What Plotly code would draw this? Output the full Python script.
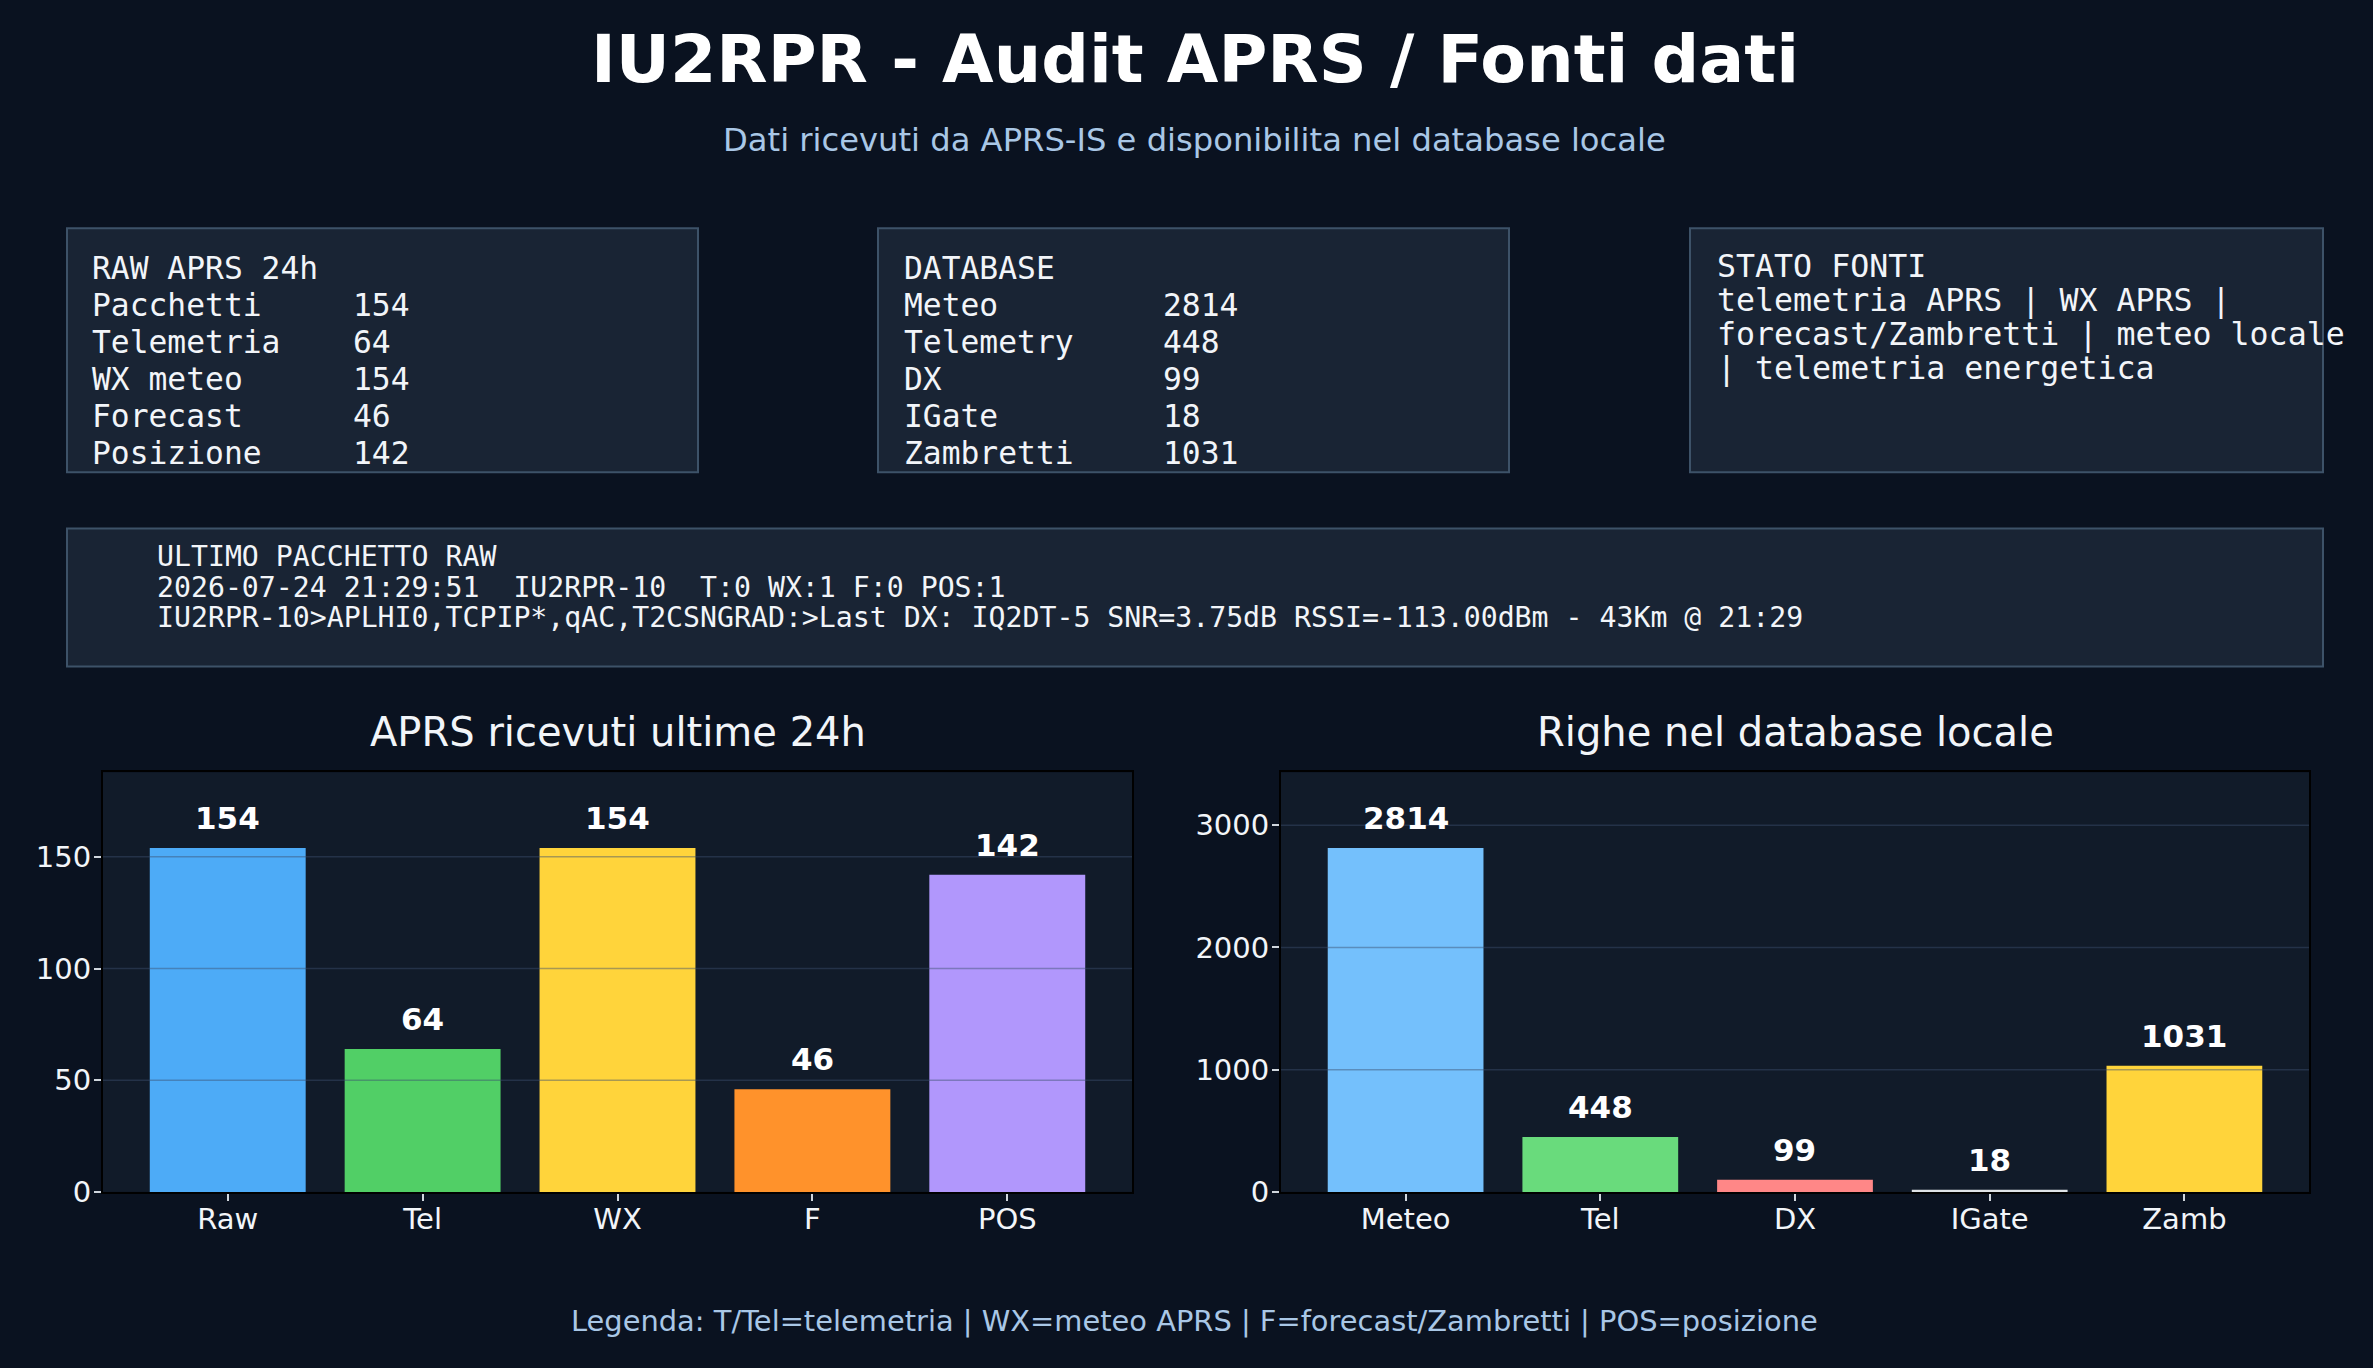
import plotly.graph_objects as go

# ---------------- data ----------------
title_text = "IU2RPR - Audit APRS / Fonti dati"
subtitle_text = "Dati ricevuti da APRS-IS e disponibilita nel database locale"
legend_text = "Legenda: T/Tel=telemetria | WX=meteo APRS | F=forecast/Zambretti | POS=posizione"

raw_box_title = "RAW APRS 24h"
raw_labels = ["Pacchetti", "Telemetria", "WX meteo", "Forecast", "Posizione"]
raw_values = [154, 64, 154, 46, 142]
raw_categories = ["Raw", "Tel", "WX", "F", "POS"]
raw_colors = ["#4dabf7", "#51cf66", "#ffd43b", "#ff922b", "#b197fc"]
raw_chart_title = "APRS ricevuti ultime 24h"

db_box_title = "DATABASE"
db_labels = ["Meteo", "Telemetry", "DX", "IGate", "Zambretti"]
db_values = [2814, 448, 99, 18, 1031]
db_categories = ["Meteo", "Tel", "DX", "IGate", "Zamb"]
db_colors = ["#74c0fc", "#69db7c", "#ff8787", "#dee2e6", "#ffd43b"]
db_chart_title = "Righe nel database locale"

sources_title = "STATO FONTI"
sources_lines = ["telemetria APRS | WX APRS |",
                 "forecast/Zambretti | meteo locale",
                 "| telemetria energetica"]

last_packet_lines = ["ULTIMO PACCHETTO RAW",
                     "2026-07-24 21:29:51  IU2RPR-10  T:0 WX:1 F:0 POS:1",
                     "IU2RPR-10>APLHI0,TCPIP*,qAC,T2CSNGRAD:>Last DX: IQ2DT-5 SNR=3.75dB RSSI=-113.00dBm - 43Km @ 21:29"]

# ---------------- style ----------------
W, H = 2373, 1368
H_EFF = 1350  # effective rendered height observed in the screenshot
BG = "#0a1220"
PLOT_BG = "#111b29"
BOX_BG = "#192434"
BOX_BORDER = "#3d5268"
TXT = "#f2f5f9"
SUB = "#a9c7e6"
GRID = "rgba(60,80,110,0.45)"
SANS = "DejaVu Sans"
MONO = "DejaVu Sans Mono"


def px(x):
    return x / W


def py(y):
    return 1 - y / H_EFF


def nb(s):
    return s.replace(" ", "\u00a0")


fig = go.Figure()

fig.add_trace(go.Bar(x=raw_categories, y=raw_values, marker=dict(color=raw_colors, line=dict(width=0)),
                     width=0.8, xaxis="x", yaxis="y", showlegend=False, hoverinfo="skip"))
fig.add_trace(go.Bar(x=db_categories, y=db_values, marker=dict(color=db_colors, line=dict(width=0)),
                     width=0.8, xaxis="x2", yaxis="y2", showlegend=False, hoverinfo="skip"))

axis_common = dict(showline=True, linecolor="black", linewidth=2, mirror=True,
                   ticks="outside", ticklen=7, tickwidth=1.5, tickcolor="#d0d6dd",
                   tickfont=dict(family=SANS, size=29, color=TXT),
                   showgrid=False, zeroline=False, fixedrange=True)

y_dom = [py(1191), py(771.7)]
fig.update_layout(
    xaxis=dict(domain=[px(103), px(1132)], type="category", range=[-0.64, 4.64],
               ticklabelstandoff=-7, **axis_common),
    yaxis=dict(domain=y_dom, range=[0, max(raw_values) * 1.22], dtick=50, anchor="x",
               ticklabelstandoff=-3, **axis_common),
    xaxis2=dict(domain=[px(1281), px(2309)], type="category", range=[-0.64, 4.64], anchor="y2",
                ticklabelstandoff=-7, **axis_common),
    yaxis2=dict(domain=y_dom, range=[0, max(db_values) * 1.22], dtick=1000, anchor="x2",
                ticklabelstandoff=-3, **axis_common),
)

shapes = []
annotations = []

# gridlines drawn on top of bars
for yref, xref, vals, step in [("y", "x", raw_values, 50), ("y2", "x2", db_values, 1000)]:
    v = step
    while v < max(vals) * 1.22:
        shapes.append(dict(type="line", xref=f"{xref} domain", yref=yref, x0=0, x1=1, y0=v, y1=v,
                           line=dict(color=GRID, width=1.5), layer="above"))
        v += step

# info boxes
for x0, y0, x1, y1 in [(67, 228, 698, 472), (878, 228, 1509, 472), (1690, 228, 2323, 472), (67, 528, 2323, 666)]:
    shapes.append(dict(type="rect", xref="paper", yref="paper", x0=px(x0), x1=px(x1), y0=py(y1), y1=py(y0),
                       fillcolor=BOX_BG, line=dict(color=BOX_BORDER, width=2), layer="below"))


def txt(x, yc, s, size, family=MONO, color=TXT, xanchor="left", weight="normal"):
    annotations.append(dict(xref="paper", yref="paper", x=px(x), y=py(yc), text=s, showarrow=False,
                            xanchor=xanchor, yanchor="middle", align="left", borderpad=0, borderwidth=0,
                            font=dict(family=family, size=size, color=color, weight=weight)))


fs_box = 31.3
box_centers = [268.3, 305, 341.5, 378.5, 415.5, 453]
txt(92, box_centers[0], nb(raw_box_title), fs_box)
for i, (lab, val) in enumerate(zip(raw_labels, raw_values)):
    txt(92, box_centers[i + 1], nb(lab), fs_box)
    txt(353, box_centers[i + 1], str(val), fs_box)

txt(904, box_centers[0], nb(db_box_title), fs_box)
for i, (lab, val) in enumerate(zip(db_labels, db_values)):
    txt(904, box_centers[i + 1], nb(lab), fs_box)
    txt(1163, box_centers[i + 1], str(val), fs_box)

src_centers = [266.3, 300.3, 334.3, 368.3]
for s, yc in zip([sources_title] + sources_lines, src_centers):
    txt(1717, yc, nb(s), 31.6)

for s, yc in zip(last_packet_lines, [556.2, 587.5, 617.5]):
    txt(157, yc, nb(s), 28.2)

# titles
txt(1195, 58.6, title_text, 66.7, family=SANS, color="#ffffff", xanchor="center", weight="bold")
txt(1194, 140, subtitle_text, 32.2, family=SANS, color=SUB, xanchor="center")
txt(1194, 1320.2, legend_text, 28.9, family=SANS, color=SUB, xanchor="center")
txt(617.5, 731.9, raw_chart_title, 40, family=SANS, color=TXT, xanchor="center")
txt(1795, 731.9, db_chart_title, 40, family=SANS, color=TXT, xanchor="center")

# bar value labels
for xref, yref, cats, vals in [("x", "y", raw_categories, raw_values), ("x2", "y2", db_categories, db_values)]:
    for c, v in zip(cats, vals):
        annotations.append(dict(xref=xref, yref=yref, x=c, y=v, text=str(v), showarrow=False,
                                xanchor="center", yanchor="bottom", yshift=12, borderpad=0, borderwidth=0,
                                font=dict(family=SANS, size=31, color="#ffffff", weight="bold")))

fig.update_layout(
    width=W, height=H, autosize=False, margin=dict(l=0, r=0, t=0, b=0, pad=0),
    paper_bgcolor=BG, plot_bgcolor=PLOT_BG,
    shapes=shapes, annotations=annotations, showlegend=False, bargap=0.2,
)

fig.write_html("out.html", config={"responsive": False},
               default_width=f"{W}px", default_height=f"{H}px")
